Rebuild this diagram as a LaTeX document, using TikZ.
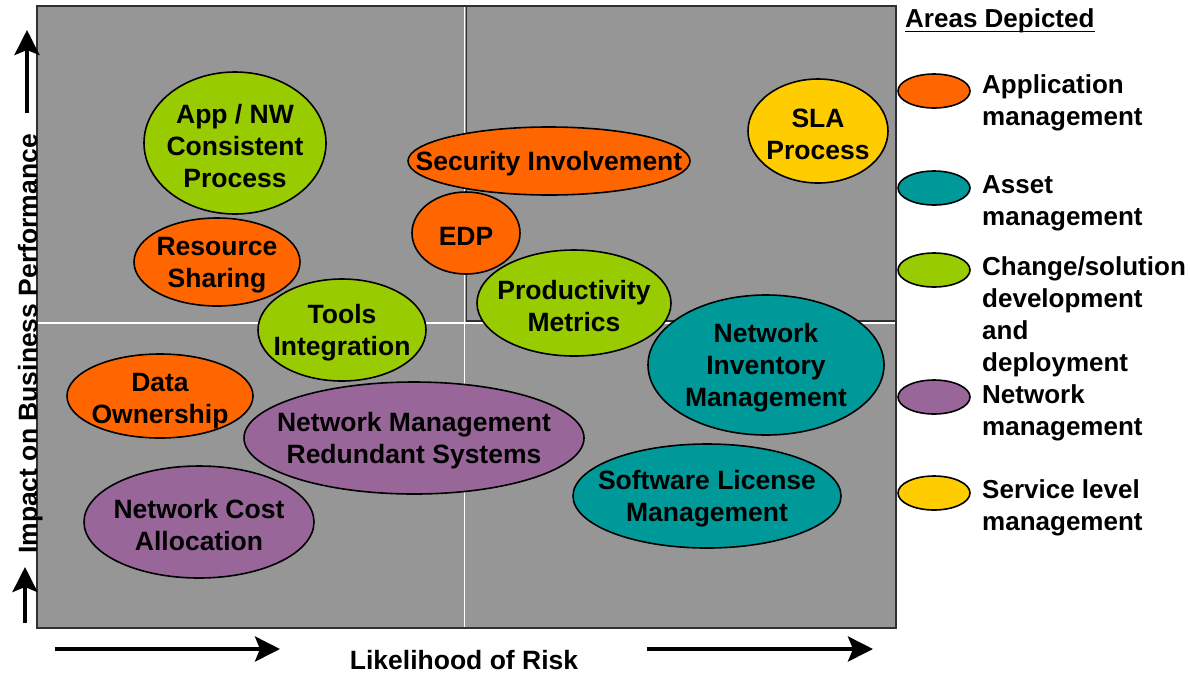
\documentclass[tikz,border=0pt]{standalone}
\usepackage{fontspec}
\setmainfont{Liberation Sans}
\usetikzlibrary{shapes.geometric,arrows.meta}

\definecolor{panelgrey}{HTML}{969696}
\definecolor{appmgmt}{HTML}{FF6600}
\definecolor{assetmgmt}{HTML}{009999}
\definecolor{changemgmt}{HTML}{99CC00}
\definecolor{netmgmt}{HTML}{996699}
\definecolor{slamgmt}{HTML}{FFCC00}
\definecolor{framedark}{HTML}{303030}

\tikzset{
  bubble/.style={ellipse, draw=black, line width=1.6pt, fill=#1, inner sep=0pt},
  bubbletext/.style={align=center, inner sep=0pt, yshift=-3pt, font=\bfseries\fontsize{26.5}{32}\selectfont},
  % anchored at the baseline of the last line
  legendtext/.style={align=left, anchor=base west, inner sep=0pt, font=\bfseries\fontsize{26}{32}\selectfont},
  axistext/.style={inner sep=0pt, font=\bfseries\fontsize{26.5}{32}\selectfont},
  axisarrow/.style={line width=4pt, -{Stealth[length=25pt,width=25pt,inset=5pt]}},
}

\begin{document}
\begin{tikzpicture}[x=1pt,y=-1pt]
\useasboundingbox (0,0) rectangle (1190,673);

% plotting panel with the white quadrant cross
\fill[panelgrey] (37,6) rectangle (896,628);
\draw[white, line width=1.8pt] (464.5,6) -- (464.5,628);
\draw[white, line width=1.8pt] (37,322.8) -- (896,322.8);
\draw[framedark, line width=1.5pt] (466.5,6.5) rectangle (895.5,321);
\draw[framedark, line width=1.5pt] (37,6) rectangle (896,628);

% axis arrows
\coordinate (ya1) at (27,113);  \coordinate (ya2) at (27,30);
\coordinate (yb1) at (25,623);  \coordinate (yb2) at (25,567);
\coordinate (xa1) at (55,649);  \coordinate (xa2) at (280,649);
\coordinate (xb1) at (647,649); \coordinate (xb2) at (873,649);
\draw[axisarrow] (ya1) -- (ya2);
\draw[axisarrow] (yb1) -- (yb2);
\draw[axisarrow] (xa1) -- (xa2);
\draw[axisarrow] (xb1) -- (xb2);

% axis titles
\node[axistext, rotate=90, anchor=base] (ytitle) at (37,344) {Impact on Business Performance};
\node[axistext, anchor=base] (xtitle) at (464,669) {Likelihood of Risk};

% bubbles
\node[bubble=changemgmt, minimum width=182, minimum height=142] (app) at (235,143) {};
\node[bubbletext] at (app) {App / NW\\Consistent\\Process};

\node[bubble=appmgmt, minimum width=166, minimum height=88] (res) at (217,262) {};
\node[bubbletext] at (res) {Resource\\Sharing};

\node[bubble=changemgmt, minimum width=168, minimum height=102] (tools) at (342,330) {};
\node[bubbletext] at (tools) {Tools\\Integration};

\node[bubble=appmgmt, minimum width=282, minimum height=68] (sec) at (549,161) {};
\node[bubbletext] at (sec) {Security Involvement};

\node[bubble=changemgmt, minimum width=194, minimum height=106] (prod) at (574,303) {};
\node[bubbletext] at (prod) {Productivity\\Metrics};

\node[bubble=appmgmt, minimum width=108, minimum height=82] (edp) at (466,233) {};
\node[bubbletext] at (edp) {EDP};

\node[bubble=slamgmt, minimum width=140, minimum height=104] (sla) at (818,131) {};
\node[bubbletext] at (sla) {SLA\\Process};

\node[bubble=assetmgmt, minimum width=236, minimum height=140] (ninv) at (766,365) {};
\node[bubbletext] at (ninv) {Network\\Inventory\\Management};

\node[bubble=assetmgmt, minimum width=268, minimum height=104] (swl) at (707,496) {};
\node[bubbletext] at (swl) {Software License\\Management};

\node[bubble=netmgmt, minimum width=340, minimum height=112] (nmrs) at (414,438) {};
\node[bubbletext] at (nmrs) {Network Management\\Redundant Systems};

\node[bubble=appmgmt, minimum width=186, minimum height=84] (data) at (160,396) {};
\node[bubbletext, yshift=-2pt] at (data) {Data\\Ownership};

\node[bubble=netmgmt, minimum width=230, minimum height=112] (cost) at (199,522) {};
\node[bubbletext] at (cost) {Network Cost\\Allocation};

% legend
\node[legendtext] (hdr) at (905,27) {Areas Depicted};
\draw[line width=1.8pt] ([yshift=-4.5pt]hdr.base west) -- ([yshift=-4.5pt]hdr.base east);

\node[bubble=appmgmt, minimum width=72, minimum height=34] (kapp) at (934,91) {};
\node[legendtext] (tapp) at (982,125) {Application\\management};

\node[bubble=assetmgmt, minimum width=72, minimum height=34] (kasset) at (934,188) {};
\node[legendtext] (tasset) at (982,225) {Asset\\management};

\node[bubble=changemgmt, minimum width=72, minimum height=34] (kchange) at (934,270) {};
\node[legendtext] (tchange) at (982,371) {Change/solution\\development\\and\\deployment};

\node[bubble=netmgmt, minimum width=72, minimum height=34] (knet) at (934,397) {};
\node[legendtext] (tnet) at (982,435) {Network\\management};

\node[bubble=slamgmt, minimum width=72, minimum height=34] (ksla) at (934,493) {};
\node[legendtext] (tsla) at (982,530) {Service level\\management};
\end{tikzpicture}
\end{document}
